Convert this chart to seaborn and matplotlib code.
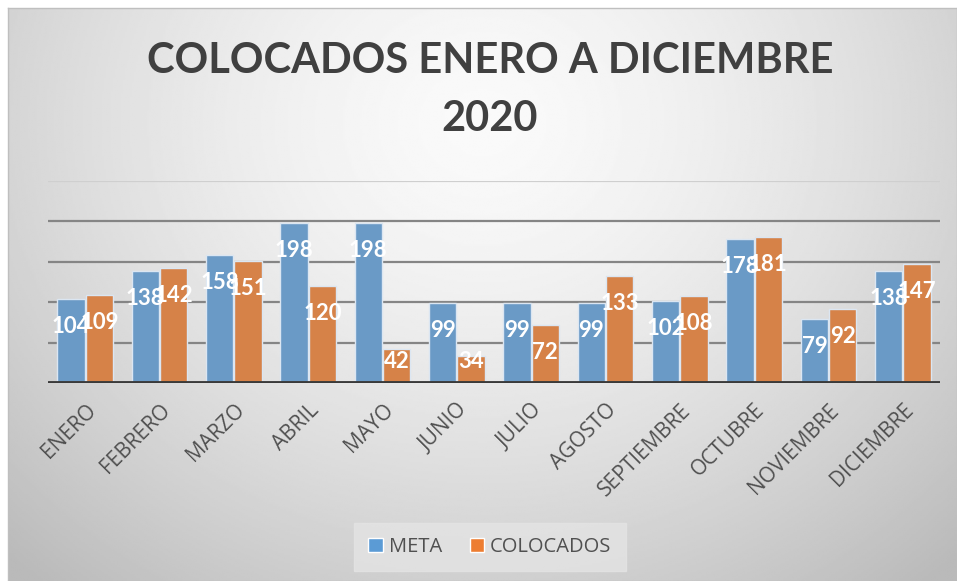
import numpy as np
import pandas as pd
import seaborn as sns
import matplotlib.pyplot as plt
from matplotlib.patches import Patch

meses = ['ENERO', 'FEBRERO', 'MARZO', 'ABRIL', 'MAYO', 'JUNIO', 'JULIO',
         'AGOSTO', 'SEPTIEMBRE', 'OCTUBRE', 'NOVIEMBRE', 'DICIEMBRE']
meta = [104, 138, 158, 198, 198, 99, 99, 99, 102, 178, 79, 138]
colocados = [109, 142, 151, 120, 42, 34, 72, 133, 108, 181, 92, 147]

df = pd.DataFrame({
    'mes': meses * 2,
    'valor': meta + colocados,
    'serie': ['META'] * 12 + ['COLOCADOS'] * 12,
})

sns.set_style('white')
plt.rcParams['font.family'] = ['Lato', 'DejaVu Sans']

fig = plt.figure(figsize=(9.57, 5.81), dpi=100)
fig.patch.set_facecolor('white')

# fondo degradado del area del grafico
bg = fig.add_axes([8 / 957, 0, 1 - 8 / 957, 1 - 8 / 581])
yy, xx = np.mgrid[0:1:300j, 0:1:500j]
r = np.sqrt(((xx - 0.5) / 0.72) ** 2 + ((yy - 0.2) / 1.05) ** 2)
shade = 0.98 - 0.25 * np.clip(r, 0, 1) ** 1.5
bg.imshow(shade, cmap='gray', vmin=0, vmax=1, aspect='auto', extent=[0, 1, 1, 0])
bg.set_xticks([])
bg.set_yticks([])
for s in bg.spines.values():
    s.set_color('#bfbfbf')
    s.set_linewidth(1)

ax = fig.add_axes([48 / 957, 1 - 383 / 581, (940 - 48) / 957, (383 - 181) / 581])
ax.patch.set_alpha(0)

sns.barplot(data=df, x='mes', y='valor', hue='serie', order=meses,
            hue_order=['META', 'COLOCADOS'], palette=['#5B9BD5', '#ED7D31'],
            width=0.76, gap=0.04, edgecolor='#dbe6f2', linewidth=1.0,
            legend=False, ax=ax, zorder=3)

ax.set_ylim(0, 250)
ax.set_xlim(-0.5, 11.5)
ax.set_yticks([50, 100, 150, 200, 250])
ax.set_yticklabels([])
ax.tick_params(axis='y', length=0)
for yv in [50, 100, 150, 200]:
    ax.axhline(yv, color='#858585', lw=1.6, zorder=1)
ax.axhline(250, color='#cfcfcf', lw=1.6, zorder=1)
ax.axhline(0, color='#3a3a3a', lw=3.5, zorder=4)
for s in ax.spines.values():
    s.set_visible(False)

ax.set_xlabel('')
ax.set_ylabel('')
ax.tick_params(axis='x', length=0, pad=12)
ax.set_xticks(range(12))
ax.set_xticklabels(meses, rotation=45, ha='right', rotation_mode='anchor',
                   color='#505050', fontsize=15, family=['Open Sans', 'DejaVu Sans'])

for cont in ax.containers:
    for bar in cont:
        v = bar.get_height()
        ax.text(bar.get_x() + bar.get_width() / 2, max(v - 34, 27), f'{v:.0f}',
                ha='center', va='center', color='white', fontsize=16,
                fontweight='bold', zorder=5)

fig.text(0.512, 0.895, 'COLOCADOS ENERO A DICIEMBRE', ha='center', va='center',
         fontsize=30, fontweight='bold', color='#404040')
fig.text(0.512, 0.795, '2020', ha='center', va='center',
         fontsize=30, fontweight='bold', color='#404040')

handles = [Patch(facecolor='#5B9BD5', label='META'),
           Patch(facecolor='#ED7D31', label='COLOCADOS')]
leg = fig.legend(handles=handles, loc='center', bbox_to_anchor=(0.512, 0.058),
                 ncol=2, frameon=True, handlelength=0.7,
                 handleheight=0.7, handletextpad=0.3, columnspacing=1.4,
                 borderpad=0.7, fancybox=False,
                 prop={'family': ['Open Sans', 'DejaVu Sans'], 'size': 14.5})
leg.get_frame().set_facecolor('#e4e4e4')
leg.get_frame().set_edgecolor('#e4e4e4')
for t in leg.get_texts():
    t.set_color('#505050')

fig.savefig('out.png', dpi=100)
